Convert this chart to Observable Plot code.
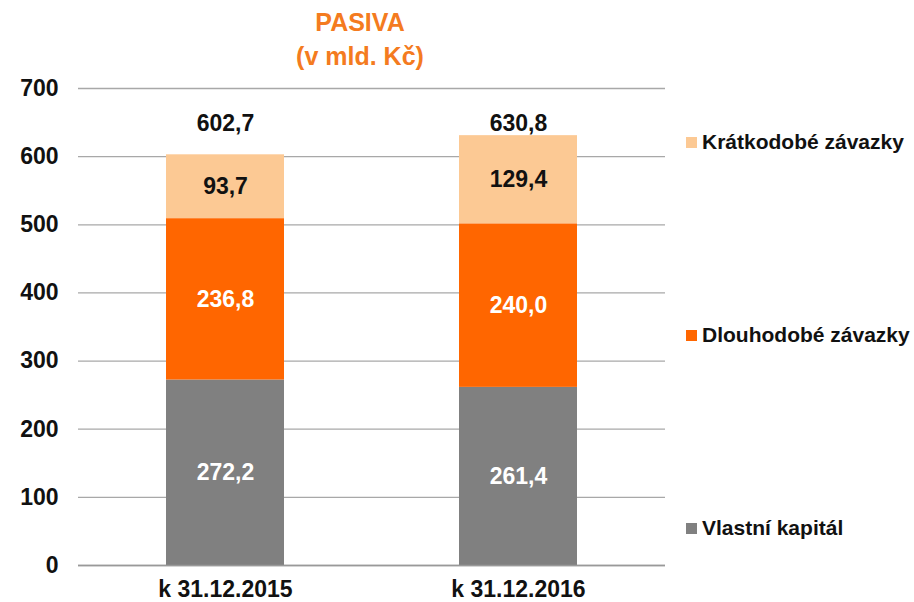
<!DOCTYPE html>
<html>
<head>
<meta charset="utf-8">
<script src="https://cdn.jsdelivr.net/npm/d3@7"></script>
<script src="https://cdn.jsdelivr.net/npm/@observablehq/plot@0.6"></script>
<style>
  html, body { margin: 0; padding: 0; background: #fff; }
  #wrap { position: relative; width: 914px; height: 602px; font-family: "Liberation Sans", Arial, sans-serif; }
  #title { position: absolute; left: 240px; width: 240px; top: 5px; text-align: center; color: #F47B20; font-weight: bold; font-size: 25px; line-height: 34px; }
  .leg { position: absolute; left: 686px; font-weight: bold; font-size: 21px; color: #111; display: flex; align-items: center; white-space: nowrap; }
  .leg span.sw { display: inline-block; width: 11px; height: 11px; margin-right: 5px; }
  #chart { position: absolute; left: 0; top: 0; }
</style>
</head>
<body>
<div id="wrap">
  <div id="chart"></div>
  <div id="title">PASIVA<br>(v mld. Kč)</div>
  <div id="legend"></div>
</div>
<script>
const categories = ["k 31.12.2015", "k 31.12.2016"];
const series = ["Vlastní kapitál", "Dlouhodobé závazky", "Krátkodobé závazky"];
const colors = ["#808080", "#FF6600", "#FCC994"];
const labelColors = ["#ffffff", "#ffffff", "#111111"];
const vlastniKapital = [272.2, 261.4];
const dlouhodobeZavazky = [236.8, 240.0];
const kratkodobeZavazky = [93.7, 129.4];
const totals = [602.7, 630.8];
const yTicks = [0, 100, 200, 300, 400, 500, 600, 700];

const seriesValues = [vlastniKapital, dlouhodobeZavazky, kratkodobeZavazky];
const data = [];
series.forEach((s, si) => {
  categories.forEach((c, ci) => {
    data.push({cat: c, series: s, value: seriesValues[si][ci], lc: labelColors[si]});
  });
});
const totalData = categories.map((c, i) => ({cat: c, total: totals[i]}));
const fmt = v => v.toFixed(1).replace(".", ",");

const chart = Plot.plot({
  width: 914,
  height: 602,
  marginTop: 88,
  marginBottom: 37,
  marginLeft: 78,
  marginRight: 249,
  style: {fontFamily: "Liberation Sans, Arial, sans-serif", fontWeight: "bold", fontSize: "23px", color: "#111"},
  x: {domain: categories, paddingInner: 0.598, paddingOuter: 0.30, label: null},
  y: {domain: [0, 700], label: null},
  color: {domain: series, range: colors},
  marks: [
    Plot.ruleY(yTicks, {stroke: "#a8a8a8", strokeWidth: 1.3, strokeOpacity: 1}),
    Plot.barY(data, {x: "cat", y: "value", fill: "series", order: series}),
    Plot.text(data, Plot.stackY({x: "cat", y: "value", z: "series", order: series, text: d => fmt(d.value), fill: "lc", fontSize: 23, fontWeight: "bold"})),
    Plot.text(totalData, {x: "cat", frameAnchor: "top", lineAnchor: "middle", text: d => fmt(d.total), dy: 35, fill: "#111", fontSize: 23, fontWeight: "bold"}),
    Plot.ruleY([0], {stroke: "#999", strokeWidth: 1.5}),
    Plot.axisY({ticks: yTicks, tickSize: 0, tickPadding: 20, tickFormat: d => String(d), fontSize: 23, fontWeight: "bold", label: null}),
    Plot.axisX({tickSize: 0, tickPadding: 15, fontSize: 23, fontWeight: "bold", label: null})
  ]
});
document.getElementById("chart").appendChild(chart);

const legendTops = [516, 323, 130];
const legend = document.getElementById("legend");
series.forEach((s, i) => {
  const d = document.createElement("div");
  d.className = "leg";
  d.style.top = legendTops[i] + "px";
  d.innerHTML = `<span class="sw" style="background:${colors[i]}"></span>${s}`;
  legend.appendChild(d);
});
</script>
</body>
</html>
